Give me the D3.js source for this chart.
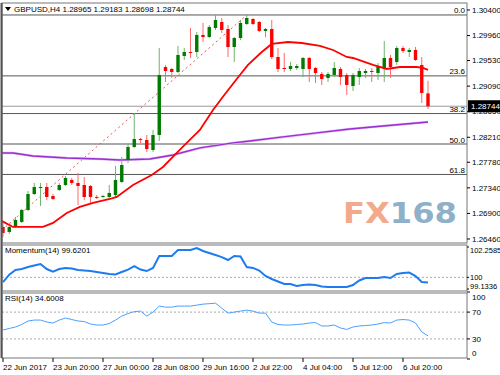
<!DOCTYPE html>
<meta charset="utf-8" />
<style>
    body { margin: 0; background: #fff; }
    text { font-family: "Liberation Sans", Arial, sans-serif; font-size: 8px; fill: #000; }
</style>
<svg width="500" height="375"></svg>
<script src="https://d3js.org/d3.v7.min.js"></script>
<script>
    var svg = d3.select("svg");

    // GBPUSD H4 candles
    var opens = [1.26667, 1.26581, 1.26667, 1.26753, 1.26959, 1.27234, 1.27338, 1.27355, 1.27200, 1.27303,
        1.27389, 1.27475, 1.27424, 1.27389, 1.27372, 1.27183, 1.27183, 1.27183, 1.27217, 1.27441,
        1.27819, 1.28043, 1.28180, 1.28163, 1.27991, 1.28249, 1.29419, 1.29385, 1.29333, 1.29609,
        1.29677, 1.29677, 1.29970, 1.29935, 1.30090, 1.30194, 1.30073, 1.29763, 1.29918, 1.30159,
        1.30245, 1.30194, 1.30039, 1.30073, 1.29591, 1.29402, 1.29385, 1.29402, 1.29385, 1.29574,
        1.29402, 1.29299, 1.29230, 1.29282, 1.29385, 1.29282, 1.29092, 1.29247, 1.29316, 1.29350,
        1.29316, 1.29402, 1.29574, 1.29505, 1.29746, 1.29677, 1.29712, 1.29454, 1.28965];
    var highs = [1.26753, 1.26684, 1.26839, 1.26976, 1.27286, 1.27424, 1.27424, 1.27424, 1.27234, 1.27424,
        1.27544, 1.27510, 1.27596, 1.27527, 1.27389, 1.27217, 1.27217, 1.27389, 1.27716, 1.27871,
        1.28112, 1.28627, 1.28197, 1.28249, 1.28335, 1.29746, 1.29454, 1.29402, 1.29781, 1.29746,
        1.30090, 1.30021, 1.30176, 1.30142, 1.30314, 1.30262, 1.30142, 1.29935, 1.30228, 1.30314,
        1.30262, 1.30211, 1.30090, 1.30228, 1.29746, 1.29660, 1.29505, 1.29471, 1.29591, 1.29591,
        1.29419, 1.29333, 1.29333, 1.29505, 1.29419, 1.29316, 1.29316, 1.29402, 1.29385, 1.29402,
        1.29488, 1.29867, 1.29626, 1.29781, 1.29781, 1.29746, 1.29763, 1.29591, 1.29183];
    var lows = [1.26495, 1.26546, 1.26649, 1.26736, 1.26942, 1.27217, 1.27028, 1.27131, 1.27131, 1.27286,
        1.27372, 1.27389, 1.27045, 1.27131, 1.27080, 1.27148, 1.27166, 1.27166, 1.27183, 1.27424,
        1.27768, 1.28026, 1.28112, 1.27957, 1.27957, 1.28146, 1.29161, 1.29230, 1.29316, 1.29540,
        1.29574, 1.29591, 1.29849, 1.29918, 1.30056, 1.30004, 1.29591, 1.29505, 1.29884, 1.30142,
        1.30142, 1.30021, 1.29935, 1.29557, 1.29333, 1.29333, 1.29350, 1.29368, 1.29247, 1.29161,
        1.29144, 1.29110, 1.29161, 1.29247, 1.29110, 1.28938, 1.29007, 1.29110, 1.29230, 1.29161,
        1.29196, 1.29161, 1.29230, 1.29454, 1.29660, 1.29591, 1.29523, 1.28800, 1.28698];
    var closes = [1.26563, 1.26667, 1.26787, 1.26959, 1.27234, 1.27355, 1.27355, 1.27183, 1.27148, 1.27389,
        1.27510, 1.27424, 1.27372, 1.27183, 1.27183, 1.27166, 1.27200, 1.27252, 1.27475, 1.27733,
        1.28043, 1.28180, 1.28163, 1.28008, 1.28249, 1.29282, 1.29350, 1.29333, 1.29626, 1.29677,
        1.29660, 1.29970, 1.29935, 1.30107, 1.30228, 1.30056, 1.29763, 1.29918, 1.30176, 1.30262,
        1.30159, 1.30039, 1.30073, 1.29591, 1.29385, 1.29385, 1.29436, 1.29436, 1.29574, 1.29385,
        1.29316, 1.29213, 1.29299, 1.29402, 1.29247, 1.29110, 1.29282, 1.29350, 1.29350, 1.29333,
        1.29419, 1.29574, 1.29419, 1.29746, 1.29694, 1.29712, 1.29540, 1.28972, 1.28744];

    // moving averages: [bar position, price]
    var redMA = [[-0.5, 1.26787], [1.6, 1.26667], [6.4, 1.26667], [8, 1.26736], [10.2, 1.26908], [12.3, 1.27011],
        [14.4, 1.27080], [17.1, 1.27148], [18.2, 1.27183], [20.8, 1.27389], [23.8, 1.27561], [25.6, 1.27699],
        [27.8, 1.27940], [29.4, 1.28112], [31.5, 1.28335], [33.6, 1.28679], [35.4, 1.28937], [37.9, 1.29282],
        [39.2, 1.29454], [41.4, 1.29677], [43, 1.29815], [45.6, 1.29849], [47.8, 1.29832], [50.7, 1.29781],
        [52.8, 1.29712], [55, 1.29591], [56, 1.29574], [59.2, 1.29454], [61.4, 1.29385], [63.5, 1.29419],
        [66.2, 1.29419], [67.2, 1.29402], [68, 1.29368]];
    var purpleMA = [[-0.5, 1.27939], [1.6, 1.27939], [4.8, 1.27888], [10.2, 1.27853], [15.5, 1.27836],
        [18.7, 1.27819], [23.5, 1.27836], [27.2, 1.27905], [31.5, 1.28026], [36.8, 1.28112], [39.5, 1.28146],
        [44.8, 1.28215], [50.2, 1.28284], [55.5, 1.28352], [60.8, 1.28404], [68, 1.28473]];

    var momentum = [99.65, 100.20, 100.55, 100.62, 100.77, 100.88, 100.99, 100.62, 100.43, 100.62,
        100.70, 100.66, 100.55, 100.51, 100.47, 100.40, 100.32, 100.25, 100.21, 100.40,
        100.58, 100.84, 100.58, 100.47, 100.70, 101.59, 101.59, 101.59, 102.04, 102.04,
        102.04, 102.18, 101.96, 101.81, 101.66, 101.51, 101.29, 101.59, 101.55, 100.77,
        100.70, 100.51, 100.10, 99.88, 99.69, 99.51, 99.51, 99.36, 99.43, 99.47,
        99.43, 99.32, 99.28, 99.28, 99.28, 99.28, 99.43, 99.77, 99.95, 99.95,
        99.95, 100.03, 99.95, 100.25, 100.32, 100.36, 100.10, 99.65, 99.62];
    var rsi = [43.3, 45.6, 47.8, 51.5, 56.7, 58.1, 58.1, 55.2, 53.7, 58.1,
        61.1, 58.9, 56.7, 55.9, 52.2, 50.7, 50.7, 53.0, 58.1, 64.1,
        67.8, 70.7, 71.5, 64.1, 70.0, 79.0, 77.4, 77.4, 79.0, 79.0,
        79.0, 80.4, 81.9, 82.6, 83.3, 75.9, 68.5, 70.0, 71.5, 72.9,
        71.5, 68.5, 68.5, 55.2, 51.5, 50.7, 50.7, 51.5, 52.2, 53.7,
        54.4, 49.3, 49.3, 50.7, 46.3, 44.1, 47.8, 49.3, 50.0, 50.7,
        52.2, 54.4, 53.7, 58.1, 58.9, 58.1, 53.7, 40.4, 34.6];

    var priceTicks = [1.30400, 1.29960, 1.29530, 1.29090, 1.28650, 1.28210, 1.27780, 1.27340, 1.26900, 1.26460];
    var fibLevels = [0, 23.6, 38.2, 50, 61.8, 100];
    var fibLabels = ["0.0", "23.6", "38.2", "50.0", "61.8", "100.0"];
    var fibHigh = [39, 1.30314];
    var fibLow = [-8, 1.25874];
    var timeTicks = [0, 8, 16, 24, 32, 40, 48, 56, 64];
    var timeLabels = ["22 Jun 2017", "23 Jun 20:00", "27 Jun 00:00", "28 Jun 08:00", "29 Jun 16:00",
        "2 Jul 22:00", "4 Jul 04:00", "5 Jul 12:00", "6 Jul 20:00"];
    var bid = 1.28744;

    var left = 2, right = 467;
    var x = d3.scaleLinear().domain([0, 68]).range([3, 428]);
    var y = d3.scaleLinear().domain([1.26391, 1.30520]).range([243, 3]);
    var yMom = d3.scaleLinear().domain([99.1336, 102.2585]).range([289, 247]);
    var yRsi = d3.scaleLinear().domain([0, 100]).range([359, 292]);

    var defs = svg.append("defs");
    defs.append("clipPath").attr("id", "clipMain")
        .append("rect").attr("x", left).attr("y", 3).attr("width", right - left).attr("height", 240);

    // watermark
    var wm = svg.append("text")
        .attr("x", 343).attr("y", 223)
        .attr("textLength", 114).attr("lengthAdjust", "spacingAndGlyphs")
        .style("font-family", "DejaVu Sans").style("font-size", "28px").style("font-weight", "bold");
    wm.append("tspan").style("fill", "#f3a98c").text("FX");
    wm.append("tspan").style("fill", "#8fb0c9").text("168");

    var main = svg.append("g").attr("clip-path", "url(#clipMain)");

    // fibonacci levels
    var fibRange = fibHigh[1] - fibLow[1];
    fibLevels.forEach(function (lv, k) {
        var py = y(fibHigh[1] - lv / 100 * fibRange);
        main.append("line").attr("x1", left).attr("x2", right).attr("y1", py).attr("y2", py)
            .attr("stroke", "#555").attr("stroke-width", 1);
        main.append("text").attr("x", right - 2).attr("y", py - 1.5).attr("text-anchor", "end").text(fibLabels[k]);
    });
    main.append("line")
        .attr("x1", x(fibLow[0])).attr("y1", y(fibLow[1]))
        .attr("x2", x(fibHigh[0])).attr("y2", y(fibHigh[1]))
        .attr("stroke", "#f05050").attr("stroke-width", 1).attr("stroke-dasharray", "2,3");

    // bid line
    main.append("line").attr("x1", left).attr("x2", right).attr("y1", y(bid)).attr("y2", y(bid))
        .attr("stroke", "#999").attr("stroke-width", 1);

    var line = d3.line()
        .x(function (d) { return x(d[0]); })
        .y(function (d) { return y(d[1]); });

    main.append("path").datum(purpleMA).attr("d", line)
        .attr("fill", "none").attr("stroke", "#dcbcf0").attr("stroke-width", 2.6);
    main.append("path").datum(purpleMA).attr("d", line)
        .attr("fill", "none").attr("stroke", "#9a2ed6").attr("stroke-width", 1.3);

    // candles
    var bars = main.append("g").selectAll("g")
        .data(d3.range(opens.length))
        .enter()
        .append("g");
    bars.append("line")
        .attr("x1", function (i) { return x(i); })
        .attr("x2", function (i) { return x(i); })
        .attr("y1", function (i) { return y(highs[i]); })
        .attr("y2", function (i) { return y(lows[i]); })
        .attr("stroke", function (i) { return closes[i] >= opens[i] ? "#6fb56f" : "#ff6a6a"; })
        .attr("stroke-width", 1);
    bars.append("rect")
        .attr("x", function (i) { return x(i) - 1.7; })
        .attr("width", 3.4)
        .attr("y", function (i) { return y(Math.max(opens[i], closes[i])); })
        .attr("height", function (i) {
            return Math.max(1, Math.abs(y(opens[i]) - y(closes[i])));
        })
        .attr("fill", function (i) { return closes[i] >= opens[i] ? "#007a00" : "#ff0000"; });

    main.append("path").datum(redMA).attr("d", line)
        .attr("fill", "none").attr("stroke", "#ff0000").attr("stroke-width", 1.8);

    // title
    svg.append("path").attr("d", "M5,7 L11,7 L8,11 Z").attr("fill", "#000");
    svg.append("text").attr("x", 14).attr("y", 12).text("GBPUSD,H4  1.28965 1.29183 1.28698 1.28744");

    // indicator panels
    var momLine = d3.line()
        .x(function (d, i) { return x(i); })
        .y(function (d) { return yMom(d); });
    svg.append("line").attr("x1", left).attr("x2", right).attr("y1", yMom(100)).attr("y2", yMom(100))
        .attr("stroke", "#aaa").attr("stroke-dasharray", "2,2");
    svg.append("path").datum(momentum).attr("d", momLine)
        .attr("fill", "none").attr("stroke", "#1e7bf0").attr("stroke-width", 2);
    svg.append("text").attr("x", 5).attr("y", 253).text("Momentum(14) 99.6201");

    var rsiLine = d3.line()
        .x(function (d, i) { return x(i); })
        .y(function (d) { return yRsi(d); });
    [70, 30].forEach(function (v) {
        svg.append("line").attr("x1", left).attr("x2", right).attr("y1", yRsi(v)).attr("y2", yRsi(v))
            .attr("stroke", "#aaa").attr("stroke-dasharray", "2,2");
    });
    svg.append("path").datum(rsi).attr("d", rsiLine)
        .attr("fill", "none").attr("stroke", "#4aa0ff").attr("stroke-width", 1);
    svg.append("text").attr("x", 5).attr("y", 301).text("RSI(14) 34.6008");

    // frames
    [[3, 243], [245, 291], [293, 358]].forEach(function (p) {
        svg.append("rect").attr("x", left).attr("y", p[0]).attr("width", right - left).attr("height", p[1] - p[0])
            .attr("fill", "none").attr("stroke", "#777").attr("stroke-width", 1);
    });
    svg.append("line").attr("x1", 1.5).attr("x2", 1.5).attr("y1", 3).attr("y2", 358)
        .attr("stroke", "#555").attr("stroke-width", 2);

    // price axis
    priceTicks.forEach(function (p) {
        svg.append("line").attr("x1", right).attr("x2", right + 3).attr("y1", y(p)).attr("y2", y(p)).attr("stroke", "#000");
        svg.append("text").attr("x", right + 5).attr("y", y(p)).attr("dy", "0.35em").text(p.toFixed(5));
    });
    svg.append("rect").attr("x", right + 1).attr("y", y(bid) - 6).attr("width", 33).attr("height", 12).attr("fill", "#000");
    svg.append("text").attr("x", right + 4).attr("y", y(bid)).attr("dy", "0.35em").style("fill", "#fff").text(bid.toFixed(5));

    var momLabels = [[102.2585, 3], [100, 0], [99.1336, -3]];
    momLabels.forEach(function (m) {
        svg.append("line").attr("x1", right).attr("x2", right + 2).attr("y1", yMom(m[0])).attr("y2", yMom(m[0])).attr("stroke", "#000");
        svg.append("text").attr("x", right + 3).attr("y", yMom(m[0]) + m[1]).attr("dy", "0.35em")
            .style("font-size", "7.5px").text(String(m[0]));
    });
    var rsiLabels = [[100, 5], [70, 0], [30, 0], [0, -6]];
    rsiLabels.forEach(function (r) {
        svg.append("line").attr("x1", right).attr("x2", right + 3).attr("y1", yRsi(r[0])).attr("y2", yRsi(r[0])).attr("stroke", "#000");
        svg.append("text").attr("x", right + 5).attr("y", yRsi(r[0]) + r[1]).attr("dy", "0.35em").text(String(r[0]));
    });

    // time axis
    timeTicks.forEach(function (t, k) {
        svg.append("line").attr("x1", x(t)).attr("x2", x(t)).attr("y1", 358).attr("y2", 362).attr("stroke", "#000");
        svg.append("text").attr("x", x(t)).attr("y", 370).text(timeLabels[k]);
    });
</script>
